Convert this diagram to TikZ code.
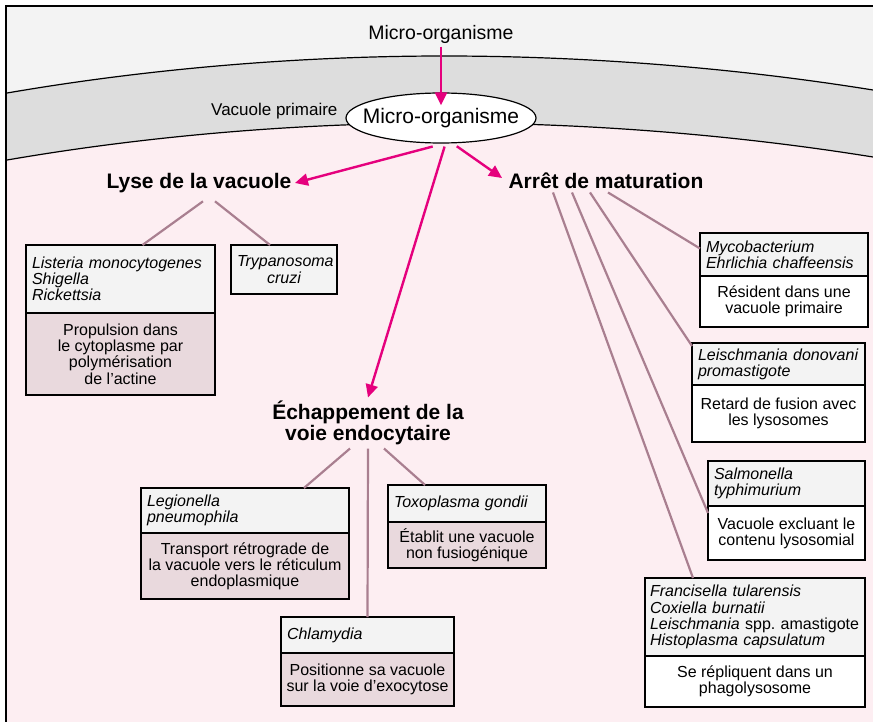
\documentclass[tikz,border=0pt]{standalone}
\usepackage{fontspec}
\setmainfont{Liberation Sans}
\usetikzlibrary{positioning, shapes.geometric, arrows.meta}

\definecolor{outsidegray}{HTML}{F3F3F3}
\definecolor{vacuolegray}{HTML}{DDDDDD}
\definecolor{cellpink}{HTML}{FDEEF2}
\definecolor{rolepink}{HTML}{E9D9DD}
\definecolor{stemmauve}{HTML}{A97F90}
\definecolor{arrowmagenta}{HTML}{E5007D}

\newcommand{\boxfont}{\fontsize{16}{16.2}\selectfont}
\newcommand{\headfont}{\fontsize{21}{21}\selectfont\bfseries}
\newcommand{\topfont}{\fontsize{19.5}{21}\selectfont}

\begin{document}
\begin{tikzpicture}[x=1pt, y=-1pt,
    species/.style={draw=black, line width=1.2pt, fill=outsidegray, outer sep=0pt,
        font=\boxfont\itshape, align=left, inner xsep=6pt, anchor=north west},
    role/.style={draw=black, line width=1.2pt, outer sep=0pt,
        font=\boxfont, align=center, inner xsep=2pt},
    heading/.style={font=\headfont},
    pinkarrow/.style={draw=arrowmagenta, line width=2.4pt,
        -{Triangle[length=13pt,width=12pt]}},
    stem/.style={draw=stemmauve, line width=2.2pt}]

    \useasboundingbox (0,0) rectangle (873,722);
    \clip (0,0) rectangle (873,722);

    % cell, vacuole band and outside
    \fill[outsidegray] (7,7) rectangle (873,722);
    \fill[vacuolegray] (7,93) parabola bend (444,56) (873,90)
        -- (873,722) -- (7,722) -- cycle;
    \fill[cellpink] (7,160) parabola bend (444,123) (873,157)
        -- (873,722) -- (7,722) -- cycle;
    \draw[line width=1.2pt] (7,93) parabola bend (444,56) (873,90);
    \draw[line width=1.2pt] (7,160) parabola bend (444,123) (873,157);
    \draw[line width=2pt] (6,6) rectangle (880,730);

    % top
    \node[font=\topfont] (microbe) at (441,34) {Micro-organisme};
    \node[draw, ellipse, fill=white, line width=1.2pt, minimum width=190pt,
        minimum height=50pt, inner xsep=-14pt, inner ysep=0pt,
        font=\fontsize{21}{22}\selectfont] (vac) at (441,118) {Micro-organisme};
    \node[font=\fontsize{17}{18}\selectfont, anchor=east] (vaclabel) at (341,111)
        {Vacuole primaire};

    % headings
    \node[heading] (lyse) at (199,183) {Lyse de la vacuole};
    \node[heading] (arret) at (606,181) {Arrêt de maturation};
    \node[heading, align=center] (echap) at (368,423)
        {Échappement de la\\ voie endocytaire};

    % lyse de la vacuole
    \node[species, text width=177pt, minimum height=68pt] (listeria) at (26,245)
        {Listeria monocytogenes\\ Shigella\\ Rickettsia};
    \node[role, fill=rolepink, minimum width=189pt, minimum height=82pt,
        below=0pt of listeria] (listeria-r)
        {Propulsion dans\\ le cytoplasme par\\ polymérisation\\ de l'actine};
    \node[species, align=center, text width=94pt, minimum height=49pt] (trypano)
        at (231,245) {Trypanosoma\\ cruzi};

    % echappement
    \node[species, text width=196pt, minimum height=45pt] (legion) at (141,488)
        {Legionella\\ pneumophila};
    \node[role, fill=rolepink, minimum width=208pt, minimum height=66pt,
        below=0pt of legion] (legion-r)
        {Transport rétrograde de\\ la vacuole vers le réticulum\\ endoplasmique};
    \node[species, text width=146pt, minimum height=37pt] (toxo) at (388,485)
        {Toxoplasma gondii};
    \node[role, fill=rolepink, minimum width=158pt, minimum height=46pt,
        below=0pt of toxo] (toxo-r)
        {Établit une vacuole\\ non fusiogénique};
    \node[species, text width=161pt, minimum height=36pt] (chlamy) at (281,617)
        {Chlamydia};
    \node[role, fill=rolepink, minimum width=173pt, minimum height=53pt,
        below=0pt of chlamy] (chlamy-r)
        {Positionne sa vacuole\\ sur la voie d'exocytose};

    % arret de maturation
    \node[species, text width=156pt, minimum height=43pt] (myco) at (700,233)
        {Mycobacterium\\ Ehrlichia chaffeensis};
    \node[role, fill=white, minimum width=168pt, minimum height=51pt,
        below=0pt of myco] (myco-r)
        {Résident dans une\\ vacuole primaire};
    \node[species, text width=161pt, minimum height=42pt] (leish) at (692,343)
        {Leischmania donovani\\ promastigote};
    \node[role, fill=white, minimum width=173pt, minimum height=57pt,
        below=0pt of leish] (leish-r)
        {Retard de fusion avec\\ les lysosomes};
    \node[species, text width=145pt, minimum height=45pt] (salm) at (708,461)
        {Salmonella\\ typhimurium};
    \node[role, fill=white, minimum width=157pt, minimum height=54pt,
        below=0pt of salm] (salm-r)
        {Vacuole excluant le\\ contenu lysosomial};
    \node[species, text width=210pt, inner xsep=5pt, minimum height=78pt] (franc)
        at (645,578)
        {Francisella tularensis\\ Coxiella burnatii\\
         \mbox{Leischmania {\upshape spp.\ amastigote}}\\ Histoplasma capsulatum};
    \node[role, fill=white, minimum width=220pt, minimum height=51pt,
        below=0pt of franc] (franc-r)
        {Se répliquent dans un\\ phagolysosome};

    % arrows
    \draw[pinkarrow] (microbe.south) -- ([yshift=-13pt]vac.north);
    \draw[pinkarrow] ([yshift=-3pt]vac.-108) -- (lyse.east);
    \draw[pinkarrow] ([yshift=-3pt]vac.-82) -- (echap.north);
    \draw[pinkarrow] ([yshift=-3pt]vac.-58) -- ([xshift=-3pt,yshift=3pt]arret.west);

    % stems
    \draw[stem] ([xshift=4pt,yshift=-5pt]lyse.south) -- ([xshift=22pt]listeria.north);
    \draw[stem] ([xshift=16pt,yshift=-5pt]lyse.south) -- ([xshift=-14pt]trypano.north);
    \draw[stem] ([xshift=-18pt]echap.south) -- ([xshift=59pt]legion.north);
    \draw[stem] (echap.south) -- (chlamy.north);
    \draw[stem] ([xshift=16pt]echap.south) -- ([xshift=-42pt]toxo.north);
    \draw[stem] ([xshift=2pt]arret.south) -- ([yshift=6pt]myco.west);
    \draw[stem] ([xshift=-16pt]arret.south) -- ([yshift=-3pt]leish.north west);
    \draw[stem] ([xshift=-34pt]arret.south) -- ([yshift=-7pt]salm-r.north west);
    \draw[stem] ([xshift=-53pt]arret.south) -- ([xshift=48pt]franc.north west);

\end{tikzpicture}
\end{document}
